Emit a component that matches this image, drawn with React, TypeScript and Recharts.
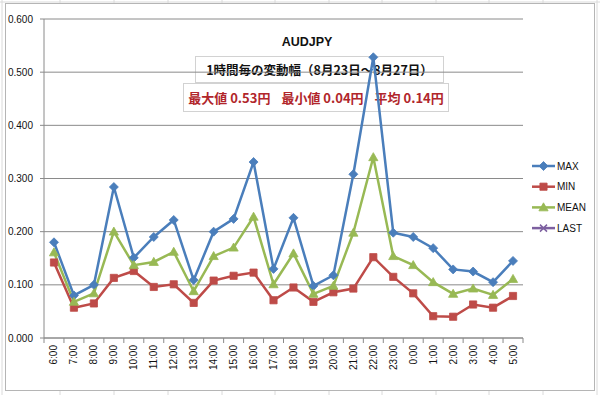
import React from 'react';
import { LineChart, Line, XAxis, YAxis, CartesianGrid, Legend } from 'recharts';

const hours = ['6:00', '7:00', '8:00', '9:00', '10:00', '11:00', '12:00', '13:00', '14:00', '15:00', '16:00', '17:00', '18:00', '19:00', '20:00', '21:00', '22:00', '23:00', '0:00', '1:00', '2:00', '3:00', '4:00', '5:00'];
const maxValues = [0.180, 0.080, 0.100, 0.284, 0.151, 0.190, 0.222, 0.109, 0.200, 0.224, 0.331, 0.130, 0.226, 0.098, 0.118, 0.308, 0.528, 0.198, 0.190, 0.169, 0.129, 0.125, 0.105, 0.145];
const minValues = [0.142, 0.057, 0.065, 0.113, 0.126, 0.096, 0.101, 0.066, 0.108, 0.117, 0.123, 0.071, 0.095, 0.068, 0.086, 0.093, 0.152, 0.115, 0.084, 0.041, 0.040, 0.063, 0.057, 0.079];
const meanValues = [0.161, 0.068, 0.084, 0.200, 0.137, 0.143, 0.162, 0.088, 0.154, 0.170, 0.228, 0.101, 0.159, 0.083, 0.098, 0.198, 0.340, 0.154, 0.137, 0.105, 0.083, 0.093, 0.081, 0.111];
const lastValues: (number | null)[] = [null, null, null, null, null, null, null, null, null, null, null, null, null, null, null, null, null, null, null, null, null, null, null, null];
const yTicks = [0, 0.1, 0.2, 0.3, 0.4, 0.5, 0.6];
const seriesNames = ['MAX', 'MIN', 'MEAN', 'LAST'];
const titleText = 'AUDJPY';
const subtitleText = '1時間毎の変動幅（8月23日～8月27日）';
const statsParts = ['最大値 0.53円', '最小値 0.04円', '平均 0.14円'];

const data = hours.map((h, i) => ({
  hour: h,
  MAX: maxValues[i],
  MIN: minValues[i],
  MEAN: meanValues[i],
  LAST: lastValues[i],
}));

const colors: Record<string, string> = {
  MAX: '#4a7ebb',
  MIN: '#be4b48',
  MEAN: '#98b954',
  LAST: '#7d60a0',
};

const GRID = '#8a8a8a';
const FONT = '"Liberation Sans", Arial, sans-serif';
const JP = '"Noto Sans CJK JP", "Liberation Sans", sans-serif';

function markerPath(kind: string, cx: number, cy: number): string {
  if (kind === 'MAX') {
    const s = 4.5;
    return `M${cx},${cy - s}L${cx + s},${cy}L${cx},${cy + s}L${cx - s},${cy}Z`;
  }
  if (kind === 'MIN') {
    const s = 3.6;
    return `M${cx - s},${cy - s}L${cx + s},${cy - s}L${cx + s},${cy + s}L${cx - s},${cy + s}Z`;
  }
  if (kind === 'MEAN') {
    const s = 4.6;
    return `M${cx},${cy - s}L${cx + s},${cy + s * 0.75}L${cx - s},${cy + s * 0.75}Z`;
  }
  const s = 3.5;
  return `M${cx - s},${cy - s}L${cx + s},${cy + s}M${cx + s},${cy - s}L${cx - s},${cy + s}`;
}

const makeDot = (kind: string) => (props: any) => {
  const { cx, cy, index, value } = props;
  if (cx == null || cy == null || value == null) return <g key={`${kind}-${index}`} />;
  const c = colors[kind];
  return (
    <path
      key={`${kind}-${index}`}
      d={markerPath(kind, cx, cy)}
      fill={kind === 'LAST' ? 'none' : c}
      stroke={c}
      strokeWidth={kind === 'LAST' ? 1.5 : 0.8}
    />
  );
};

const XTick = (props: any) => {
  const { x, y, payload, index } = props;
  const half = payload && typeof payload.offset === 'number' && payload.offset > 0 ? payload.offset : 10;
  const ty = y + 7;
  return (
    <g>
      <line x1={x - half} y1={y} x2={x - half} y2={y + 5} stroke={GRID} strokeWidth={1} />
      {index === hours.length - 1 && (
        <line x1={x + half} y1={y} x2={x + half} y2={y + 5} stroke={GRID} strokeWidth={1} />
      )}
      <text
        x={x}
        y={ty}
        transform={`rotate(-90 ${x} ${ty})`}
        textAnchor="end"
        dominantBaseline="central"
        fontSize={10}
        fontFamily={FONT}
        fill="#111"
      >
        {payload.value}
      </text>
    </g>
  );
};

const LegendContent = () => (
  <svg width={64} height={90} style={{ display: 'block', overflow: 'visible' }}>
    {seriesNames.map((name, i) => {
      const cy = 9 + i * 20.7;
      const c = colors[name];
      return (
        <g key={name}>
          <line x1={2} y1={cy} x2={25} y2={cy} stroke={c} strokeWidth={2.5} />
          <path
            d={markerPath(name, 13.5, cy)}
            fill={name === 'LAST' ? 'none' : c}
            stroke={c}
            strokeWidth={name === 'LAST' ? 1.5 : 0.8}
          />
          <text x={27} y={cy} dominantBaseline="central" fontSize={10} fontFamily={FONT} fill="#111">
            {name}
          </text>
        </g>
      );
    })}
  </svg>
);

const sheetColumns = [60, 114, 168, 222, 275, 329, 382, 436, 489, 543, 597];

export default function App() {
  return (
    <div style={{ position: 'absolute', left: 0, top: 0, width: 600, height: 395, background: '#fff', overflow: 'hidden' }}>
      <svg width={600} height={395} style={{ position: 'absolute', left: 0, top: 0 }}>
        {sheetColumns.map((cx) => (
          <line key={cx} x1={cx} y1={0} x2={cx} y2={395} stroke="#dadada" strokeWidth={1} />
        ))}
        <line x1={0} y1={2} x2={600} y2={2} stroke="#dadada" strokeWidth={1} />
        <line x1={2} y1={0} x2={2} y2={395} stroke="#dadada" strokeWidth={1} />
        <rect x={5.5} y={3.5} width={589} height={387} fill="#fff" stroke="#b5b5b5" strokeWidth={1} />
      </svg>
      <div
        style={{
          position: 'absolute', left: 257, top: 33, width: 100, height: 18, lineHeight: '18px',
          textAlign: 'center', fontFamily: FONT, fontWeight: 'bold', fontSize: 12.5, color: '#111',
        }}
      >
        {titleText}
      </div>
      <div
        style={{
          position: 'absolute', left: 195, top: 56, width: 247, height: 25, border: '1px solid #d2d2d2',
          display: 'flex', alignItems: 'center', justifyContent: 'center',
          fontFamily: JP, fontWeight: 'bold', fontSize: 12.5, color: '#111', whiteSpace: 'pre',
        }}
      >
        {subtitleText}
      </div>
      <div
        style={{
          position: 'absolute', left: 183, top: 83, width: 264, height: 27, border: '1px solid #d2d2d2',
          display: 'flex', alignItems: 'center', justifyContent: 'center', gap: 11,
          fontFamily: JP, fontWeight: 'bold', fontSize: 13, color: '#b1262b', whiteSpace: 'pre',
        }}
      >
        {statsParts.map((p) => (
          <span key={p}>{p}</span>
        ))}
      </div>
      <div style={{ position: 'absolute', left: 0, top: 0 }}>
        <LineChart width={600} height={395} data={data} margin={{ top: 19, right: 77, bottom: 0, left: 8 }}>
          <CartesianGrid vertical={false} stroke={GRID} strokeWidth={1} />
          <XAxis
            dataKey="hour"
            type="category"
            scale="band"
            interval={0}
            height={57}
            stroke={GRID}
            tickLine={false}
            tickSize={0}
            tickMargin={0}
            tick={<XTick />}
          />
          <YAxis
            type="number"
            domain={[0, 0.6]}
            ticks={yTicks}
            width={36}
            stroke={GRID}
            tickSize={4}
            tickMargin={7}
            tickFormatter={(v: number) => v.toFixed(3)}
            tick={{ fontSize: 10, fontFamily: FONT, fill: '#111' }}
          />
          <Legend
            layout="vertical"
            align="center"
            verticalAlign="middle"
            content={<LegendContent />}
            wrapperStyle={{ left: 530, top: 157, width: 64, height: 90 }}
          />
          {seriesNames.map((name) => (
            <Line
              key={name}
              type="linear"
              dataKey={name}
              stroke={colors[name]}
              strokeWidth={2.5}
              dot={makeDot(name)}
              activeDot={false}
              isAnimationActive={false}
              connectNulls={false}
            />
          ))}
        </LineChart>
      </div>
    </div>
  );
}
